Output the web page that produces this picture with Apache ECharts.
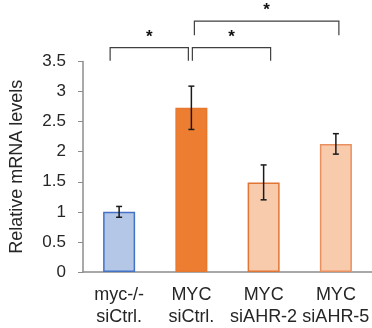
<!DOCTYPE html>
<html>
<head>
<meta charset="utf-8">
<script src="https://cdn.jsdelivr.net/npm/echarts@6/dist/echarts.min.js"></script>
<style>
  html, body { margin: 0; padding: 0; background: #fff; }
  #chart { width: 372px; height: 328px; }
</style>
</head>
<body>
<div id="chart"></div>
<script>
// 数据
const categories = ['myc-/-\nsiCtrl.', 'MYC\nsiCtrl.', 'MYC\nsiAHR-2', 'MYC\nsiAHR-5']
const values = [1.0, 2.73, 1.49, 2.13]
const errors = [0.09, 0.36, 0.29, 0.17]
const yTicks = ['0', '0.5', '1', '1.5', '2', '2.5', '3', '3.5']
// 显著性括号: [起始类别, 结束类别, 高度]
const bracketFrom = [0, 1, 1]
const bracketTo = [1, 2, 3]
const bracketLevel = [3.73, 3.73, 4.17]
const bracketLabel = ['*', '*', '*']

// 样式
const fills = ['#B4C7E7', '#ED7D31', '#F8CBAD', '#F8CBAD']
const borders = ['#4472C4', '#E8782E', '#E07535', '#E99060']
const bracketOffsets = [[-9, -3], [1, 7], [3, 3]]
const dropLen = [13, 13, 14]
const fontFamily = 'Liberation Sans, Arial, sans-serif'

const chart = echarts.init(document.getElementById('chart'))

const option = {
  animation: false,
  textStyle: { fontFamily },
  grid: { left: 76, right: 0, top: 61.5, bottom: 53 },
  xAxis: {
    type: 'category',
    data: categories,
    axisLine: { lineStyle: { color: '#8c8c8c', width: 1.5 } },
    axisTick: { show: false },
    axisLabel: { color: '#262626', fontSize: 18, lineHeight: 22, margin: 12, interval: 0 },
  },
  yAxis: {
    type: 'value',
    min: 0,
    max: 3.5,
    interval: 0.5,
    name: 'Relative mRNA levels',
    nameLocation: 'middle',
    nameGap: 57,
    nameTextStyle: { color: '#262626', fontSize: 18 },
    axisLine: { show: true, lineStyle: { color: '#8c8c8c', width: 1.5 } },
    axisTick: { show: true, length: 5, lineStyle: { color: '#8c8c8c' } },
    splitLine: { show: false },
    axisLabel: {
      color: '#262626',
      fontSize: 17,
      margin: 17,
      formatter: (v) => yTicks[Math.round(v * 2)],
    },
  },
  series: [
    {
      type: 'bar',
      barWidth: 32,
      data: values.map((v, i) => ({
        value: v,
        itemStyle: { color: fills[i], borderColor: borders[i], borderWidth: 1.5 },
      })),
    },
    {
      // 误差线
      type: 'custom',
      z: 5,
      data: values.map((v, i) => [i, v - errors[i], v + errors[i]]),
      renderItem(params, api) {
        const lo = api.coord([api.value(0), api.value(1)])
        const hi = api.coord([api.value(0), api.value(2)])
        const x = lo[0]
        const cap = 3
        const style = { stroke: '#1a1a1a', lineWidth: 1.5 }
        return {
          type: 'group',
          children: [
            { type: 'line', shape: { x1: x, y1: lo[1], x2: x, y2: hi[1] }, style },
            { type: 'line', shape: { x1: x - cap, y1: lo[1], x2: x + cap, y2: lo[1] }, style },
            { type: 'line', shape: { x1: x - cap, y1: hi[1], x2: x + cap, y2: hi[1] }, style },
          ],
        }
      },
    },
    {
      // 显著性括号
      type: 'custom',
      clip: false,
      data: bracketFrom.map((f, i) => [f, bracketTo[i], bracketLevel[i], i]),
      renderItem(params, api) {
        const idx = api.value(3)
        const a = api.coord([api.value(0), api.value(2)])
        const b = api.coord([api.value(1), api.value(2)])
        const x1 = a[0] + bracketOffsets[idx][0]
        const x2 = b[0] + bracketOffsets[idx][1]
        const y = a[1]
        const d = dropLen[idx]
        return {
          type: 'group',
          children: [
            {
              type: 'polyline',
              shape: { points: [[x1, y + d], [x1, y], [x2, y], [x2, y + d]] },
              style: { stroke: '#404040', lineWidth: 1.2, fill: null },
            },
            {
              type: 'text',
              x: (x1 + x2) / 2,
              y: y - 2,
              style: {
                text: bracketLabel[idx],
                fill: '#111',
                font: 'bold 17px ' + fontFamily,
                align: 'center',
                verticalAlign: 'bottom',
              },
            },
          ],
        }
      },
    },
  ],
}

chart.setOption(option)
</script>
</body>
</html>
